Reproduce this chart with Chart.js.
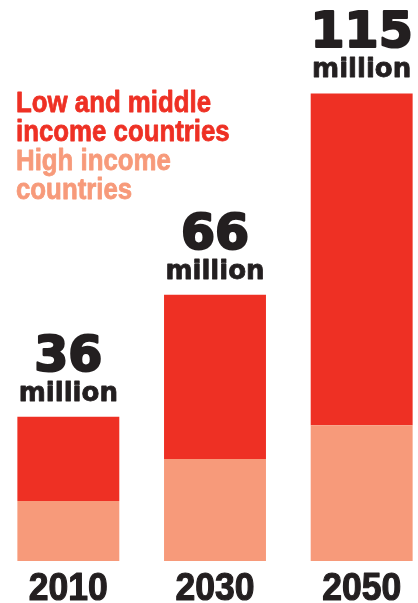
<!DOCTYPE html>
<html>
<head>
<meta charset="utf-8">
<script src="https://cdn.jsdelivr.net/npm/chart.js@4"></script>
<style>
  html, body { margin: 0; padding: 0; background: #fff; overflow: hidden; }
  #wrap { position: relative; width: 418px; height: 603px; overflow: hidden; }
  #chart { position: absolute; left: -5px; top: 0; }
</style>
</head>
<body>
<div id="wrap"><canvas id="chart" width="440" height="603"></canvas></div>
<script>
const years = ["2010", "2030", "2050"];
const highIncome = [14.8, 25.2, 33.5];
const lowMiddle = [20.8, 40.5, 81.9];
const totalLabels = ["36", "66", "115"];
const legendLowMiddle = ["Low and middle", "income countries"];
const legendHigh = ["High income", "countries"];

const red = "#ee3024";
const salmon = "#f79a7a";
const dark = "#231f20";

// fill + thin stroke, to get the heavy poster look
function heavyText(ctx, txt, x, y, w) {
    ctx.lineWidth = w;
    ctx.lineJoin = "round";
    ctx.strokeStyle = ctx.fillStyle;
    ctx.strokeText(txt, x, y);
    ctx.fillText(txt, x, y);
}

// draws totals above bars, year labels and the text legend
const textPlugin = {
    id: "textPlugin",
    afterDatasetsDraw(chart) {
        const ctx = chart.ctx;
        const top = chart.getDatasetMeta(1).data;
        const xScale = chart.scales.x;

        ctx.save();
        ctx.fillStyle = dark;
        ctx.textAlign = "center";
        ctx.textBaseline = "alphabetic";
        top.forEach((bar, i) => {
            ctx.font = "bold 49px 'DejaVu Sans'";
            heavyText(ctx, totalLabels[i], bar.x, bar.y - 46, 2.2);
            ctx.font = "bold 26px 'DejaVu Sans'";
            heavyText(ctx, "million", bar.x, bar.y - 16, 0.8);
        });

        // year labels under the bars
        ctx.font = "bold 39px 'Liberation Sans'";
        years.forEach((y, i) => {
            const x = xScale.getPixelForValue(i);
            ctx.save();
            ctx.translate(x, 599.5);
            ctx.scale(0.91, 1);
            heavyText(ctx, y, 0, 0, 1.2);
            ctx.restore();
        });

        // legend
        ctx.textAlign = "left";
        ctx.font = "bold 29px 'Liberation Sans'";
        const lines = [
            [legendLowMiddle[0], red], [legendLowMiddle[1], red],
            [legendHigh[0], salmon], [legendHigh[1], salmon]
        ];
        lines.forEach((l, i) => {
            ctx.save();
            ctx.translate(21, 111.5 + i * 29);
            ctx.scale(0.89, 1);
            ctx.fillStyle = l[1];
            heavyText(ctx, l[0], 0, 0, 0.8);
            ctx.restore();
        });
        ctx.restore();
    }
};

new Chart(document.getElementById("chart"), {
    type: "bar",
    data: {
        labels: years,
        datasets: [
            { label: "High income countries", data: highIncome, backgroundColor: salmon, borderWidth: 0 },
            { label: "Low and middle income countries", data: lowMiddle, backgroundColor: red, borderWidth: 0 }
        ]
    },
    options: {
        responsive: false,
        animation: false,
        layout: { padding: { top: 14, bottom: 42, left: 0, right: 0 } },
        datasets: { bar: { barPercentage: 0.695, categoryPercentage: 1 } },
        plugins: { legend: { display: false }, tooltip: { enabled: false } },
        scales: {
            x: { stacked: true, display: false },
            y: { stacked: true, display: false, min: 0, max: 135 }
        }
    },
    plugins: [textPlugin]
});
</script>
</body>
</html>
